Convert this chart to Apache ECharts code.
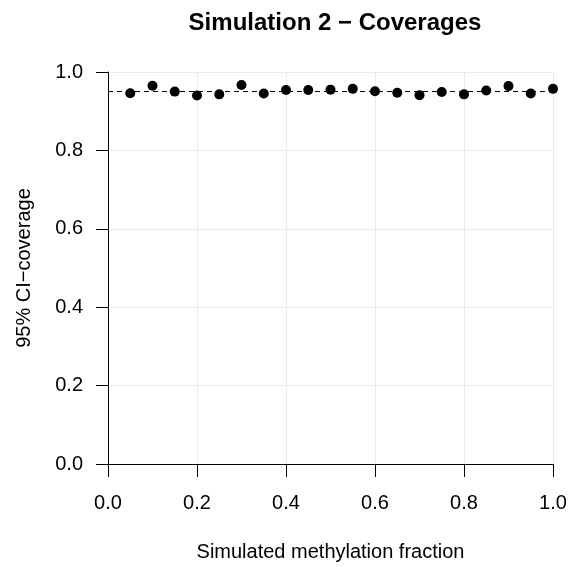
<!DOCTYPE html>
<html>
<head>
<meta charset="utf-8">
<script src="https://cdn.jsdelivr.net/npm/echarts@6/dist/echarts.min.js"></script>
<style>
  html, body { margin: 0; padding: 0; background: #fff; }
  #chart { width: 571px; height: 567px; }
</style>
</head>
<body>
<div id="chart"></div>
<script>
// simulated methylation fraction and coverage
var fractions = [0.05, 0.10, 0.15, 0.20, 0.25, 0.30, 0.35, 0.40, 0.45, 0.50,
                 0.55, 0.60, 0.65, 0.70, 0.75, 0.80, 0.85, 0.90, 0.95, 1.00];
var coverages = [0.946, 0.965, 0.950, 0.940, 0.943, 0.967, 0.945, 0.954, 0.954, 0.955,
                 0.957, 0.951, 0.947, 0.941, 0.949, 0.943, 0.953, 0.964, 0.945, 0.957];
var nominal = 0.95;
var tickLabels = ['0.0', '0.2', '0.4', '0.6', '0.8', '1.0'];

var points = fractions.map(function (f, i) { return [f, coverages[i]]; });
var font = 'Liberation Sans, Arial, sans-serif';

var chart = echarts.init(document.getElementById('chart'));
chart.setOption({
  animation: false,
  title: {
    text: 'Simulation 2 \u2212 Coverages',
    left: 330, top: 6, textAlign: 'center',
    textStyle: { fontFamily: font, fontSize: 24, fontWeight: 'bold', color: '#000' }
  },
  grid: { left: 108, right: 18, top: 72, bottom: 102 },
  xAxis: {
    type: 'value', min: 0, max: 1, interval: 0.2,
    name: 'Simulated methylation fraction',
    nameLocation: 'middle', nameGap: 78,
    nameTextStyle: { fontFamily: font, fontSize: 20, color: '#000' },
    axisLine: { show: true, lineStyle: { color: '#000', width: 1 } },
    axisTick: { show: true, length: 13, lineStyle: { color: '#000' } },
    axisLabel: {
      margin: 29, fontFamily: font, fontSize: 20, color: '#000',
      formatter: function (v) { return tickLabels[Math.round(v / 0.2)]; }
    },
    splitLine: { show: true, lineStyle: { color: '#ebebeb', width: 1 } }
  },
  yAxis: {
    type: 'value', min: 0, max: 1, interval: 0.2,
    name: '95% CI\u2212coverage',
    nameLocation: 'middle', nameGap: 74, nameRotate: 90,
    nameTextStyle: { fontFamily: font, fontSize: 20, color: '#000' },
    axisLine: { show: true, lineStyle: { color: '#000', width: 1 } },
    axisTick: { show: true, length: 12, lineStyle: { color: '#000' } },
    axisLabel: {
      margin: 25, fontFamily: font, fontSize: 20, color: '#000',
      formatter: function (v) { return tickLabels[Math.round(v / 0.2)]; }
    },
    splitLine: { show: true, lineStyle: { color: '#ebebeb', width: 1 } }
  },
  series: [{
    type: 'scatter',
    data: points,
    symbol: 'circle',
    symbolSize: 10,
    itemStyle: { color: '#000', opacity: 1 },
    markLine: {
      silent: true,
      symbol: ['none', 'none'],
      label: { show: false },
      lineStyle: { color: '#000', type: [5, 4], width: 1, opacity: 1 },
      data: [{ yAxis: nominal }]
    },
    z: 3
  }]
});
</script>
</body>
</html>
